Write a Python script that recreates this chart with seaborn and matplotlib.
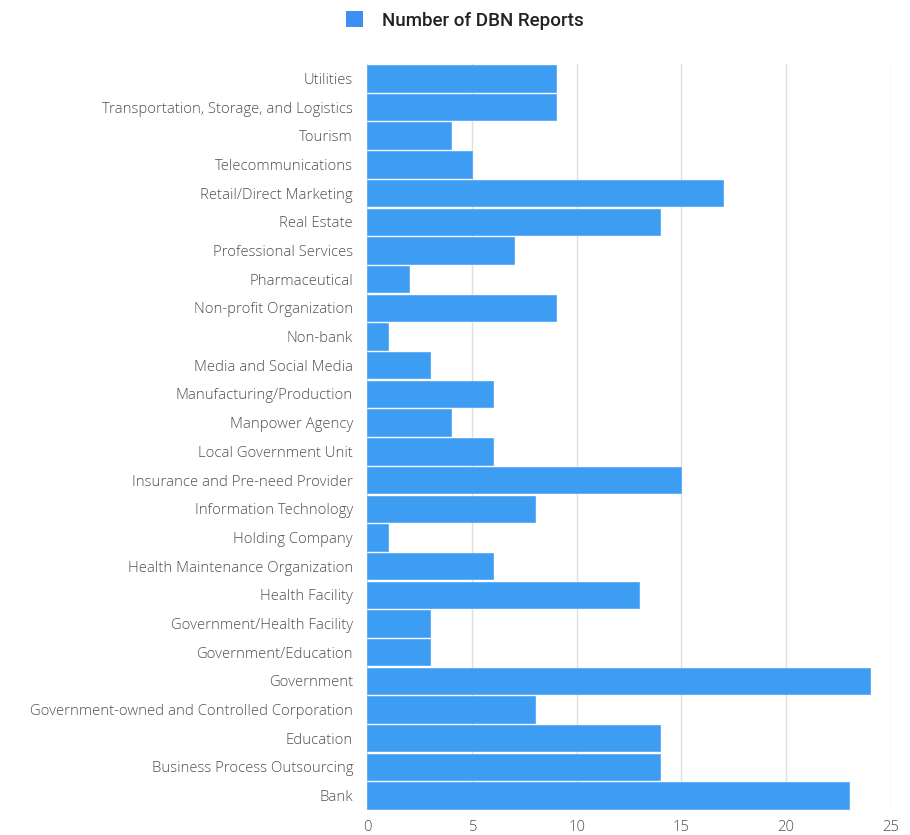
import matplotlib
matplotlib.use("Agg")
import matplotlib.pyplot as plt
import seaborn as sns
import pandas as pd
from matplotlib.patches import Patch

industries = [
    "Utilities",
    "Transportation, Storage, and Logistics",
    "Tourism",
    "Telecommunications",
    "Retail/Direct Marketing",
    "Real Estate",
    "Professional Services",
    "Pharmaceutical",
    "Non-profit Organization",
    "Non-bank",
    "Media and Social Media",
    "Manufacturing/Production",
    "Manpower Agency",
    "Local Government Unit",
    "Insurance and Pre-need Provider",
    "Information Technology",
    "Holding Company",
    "Health Maintenance Organization",
    "Health Facility",
    "Government/Health Facility",
    "Government/Education",
    "Government",
    "Government-owned and Controlled Corporation",
    "Education",
    "Business Process Outsourcing",
    "Bank",
]
reports = [9, 9, 4, 5, 17, 14, 7, 2, 9, 1, 3, 6, 4, 6, 15, 8, 1, 6, 13, 3, 3, 24, 8, 14, 14, 23]
x_ticks = [0, 5, 10, 15, 20, 25]
series_name = "Number of DBN Reports"

df = pd.DataFrame({"Industry": industries, "Reports": reports})

sns.set_style("white")
plt.rcParams["font.family"] = ["Open Sans", "DejaVu Sans"]

bar_color = "#3d9df3"

fig = plt.figure(figsize=(9.10, 8.35), dpi=100)
ax = fig.add_axes([0.4033, 0.0299, 0.5758, 0.8935])

sns.barplot(data=df, x="Reports", y="Industry", order=industries,
            color=bar_color, saturation=1, width=0.92, ax=ax,
            edgecolor="#5aaaf5", linewidth=0.6, zorder=3)

ax.set_xlim(0, 25)
ax.set_xticks(x_ticks)
ax.set_xticklabels([str(t) for t in x_ticks])
ax.set_xlabel("")
ax.set_ylabel("")
ax.grid(axis="x", color="#e0e0e0", linewidth=1, zorder=0)
ax.set_axisbelow(True)
for s in ax.spines.values():
    s.set_visible(False)
ax.tick_params(axis="both", length=0, labelsize=10.7, labelcolor="#505050")
ax.tick_params(axis="y", pad=10)
ax.tick_params(axis="x", pad=7)
for lbl in ax.get_xticklabels() + ax.get_yticklabels():
    lbl.set_fontweight("light")

handle = Patch(facecolor="#3d8ff2", edgecolor="none")
fig.legend([handle], [series_name], loc="upper center",
           bbox_to_anchor=(0.511, 1.007), frameon=False, handlelength=0.9,
           handleheight=0.95, handletextpad=1.05,
           prop={"family": ["Roboto", "DejaVu Sans"], "size": 13.5, "weight": "medium"},
           labelcolor="#222222")

fig.savefig("out.png", dpi=100, facecolor="white")
